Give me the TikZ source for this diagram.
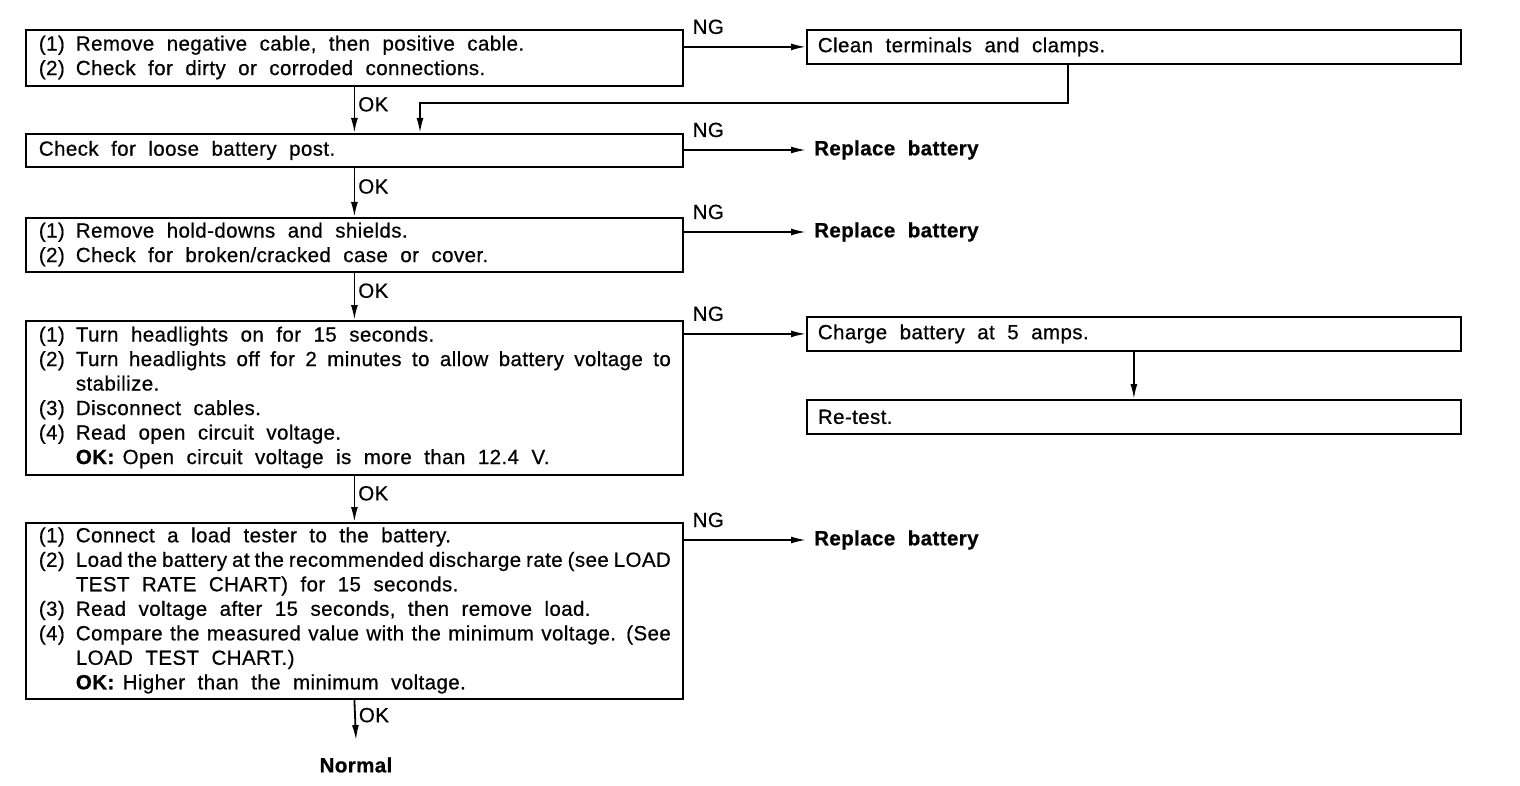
\documentclass[tikz,border=0pt]{standalone}
\usepackage{fontspec}
\setmainfont{Liberation Sans}[LetterSpace=2,
  UprightFeatures={FakeBold=0.6}, BoldFeatures={FakeBold=0.8}]
\usetikzlibrary{arrows.meta, positioning}
\newcommand{\fullline}[1]{\makebox[595pt][s]{\spaceskip=3pt plus 40pt minus 2pt\relax #1}}

\begin{document}
\begin{tikzpicture}[
  x=1pt, y=-1pt,
  font=\fontsize{20.5}{24.5}\selectfont,
  every node/.style={execute at begin node={\spaceskip=12.5pt plus 4pt minus 3pt\relax}},
  stepbox/.style={draw, line width=1.8pt, anchor=north west, text width=631pt,
                  inner xsep=13pt, inner ysep=0pt, minimum height=#1},
  sidebox/.style={draw, line width=1.8pt, anchor=north west, text width=632pt,
                  inner xsep=11pt, inner ysep=0pt, minimum height=34pt},
  res/.style={anchor=west, font=\fontsize{20.5}{24.5}\selectfont\bfseries, inner sep=8pt},
  arr/.style={-{Latex[length=15pt,width=7pt]}, line width=1.8pt},
  okl/.style={right, pos=0.38, inner sep=3pt},
  ngl/.style={anchor=base west, pos=0, xshift=8pt, yshift=13pt, inner sep=0pt}
]
\useasboundingbox (0,0) rectangle (1520,786);

%% Main column
\node[stepbox=56pt] (chk1) at (25,29) {\begin{tabular}{@{}p{37pt}@{}l@{}}
(1) & Remove negative cable, then positive cable.\\
(2) & Check for dirty or corroded connections.
\end{tabular}};
\node[stepbox=33pt] (chk2) at (25,133) {Check for loose battery post.};
\node[stepbox=54pt] (chk3) at (25,217) {\begin{tabular}{@{}p{37pt}@{}l@{}}
(1) & Remove hold-downs and shields.\\
(2) & Check for broken/cracked case or cover.
\end{tabular}};
\node[stepbox=154pt] (chk4) at (25,320) {\begin{tabular}{@{}p{37pt}@{}l@{}}
(1) & Turn headlights on for 15 seconds.\\
(2) & \fullline{Turn headlights off for 2 minutes to allow battery voltage to}\\
    & stabilize.\\
(3) & Disconnect cables.\\
(4) & Read open circuit voltage.\\
    & \textbf{OK:}\hspace{8pt}Open circuit voltage is more than 12.4 V.
\end{tabular}};
\node[stepbox=176pt] (chk5) at (25,522) {\begin{tabular}{@{}p{37pt}@{}l@{}}
(1) & Connect a load tester to the battery.\\
(2) & \fullline{Load the battery at the recommended discharge rate (see LOAD}\\
    & TEST RATE CHART) for 15 seconds.\\
(3) & Read voltage after 15 seconds, then remove load.\\
(4) & \fullline{Compare the measured value with the minimum voltage. (See}\\
    & LOAD TEST CHART.)\\
    & \textbf{OK:}\hspace{8pt}Higher than the minimum voltage.
\end{tabular}};
\node[font=\fontsize{20.5}{24.5}\selectfont\bfseries, outer ysep=14pt] (nrm) at (356,765) {Normal};

%% NG side
\node[sidebox] (cln) at (806,29) {Clean terminals and clamps.};
\node[res] (rep2) at (806,150) {Replace battery};
\node[res] (rep3) at (806,232) {Replace battery};
\node[sidebox] (chg) at (806,316) {Charge battery at 5 amps.};
\node[sidebox] (rtst) at (806,399) {Re-test.};
\node[res] (rep5) at (806,540) {Replace battery};

\coordinate (jogR) at (1068,103);
\coordinate (jogL) at (420,103);

%% OK arrows
\draw[arr] (chk1.south) -- node[okl]{OK} (chk2.north);
\draw[arr] (chk2.south) -- node[okl]{OK} (chk3.north);
\draw[arr] (chk3.south) -- node[okl]{OK} (chk4.north);
\draw[arr] (chk4.south) -- node[okl]{OK} (chk5.north);
\draw[arr] (chk5.south) -- node[okl]{OK} (nrm.north);

%% NG arrows
\draw[arr] (chk1.east |- cln) -- node[ngl]{NG} (cln.west);
\draw[arr] (chk2.east |- rep2) -- node[ngl]{NG} (rep2.west);
\draw[arr] (chk3.east |- rep3) -- node[ngl]{NG} (rep3.west);
\draw[arr] (chk4.east |- chg) -- node[ngl]{NG} (chg.west);
\draw[arr] (chk5.east |- rep5) -- node[ngl]{NG} (rep5.west);

%% Return and retest
\draw[arr] (cln.south -| jogR) -- (jogR) -- (jogL) -- (jogL |- chk2.north);
\draw[arr] (chg.south) -- (rtst.north);
\end{tikzpicture}
\end{document}
